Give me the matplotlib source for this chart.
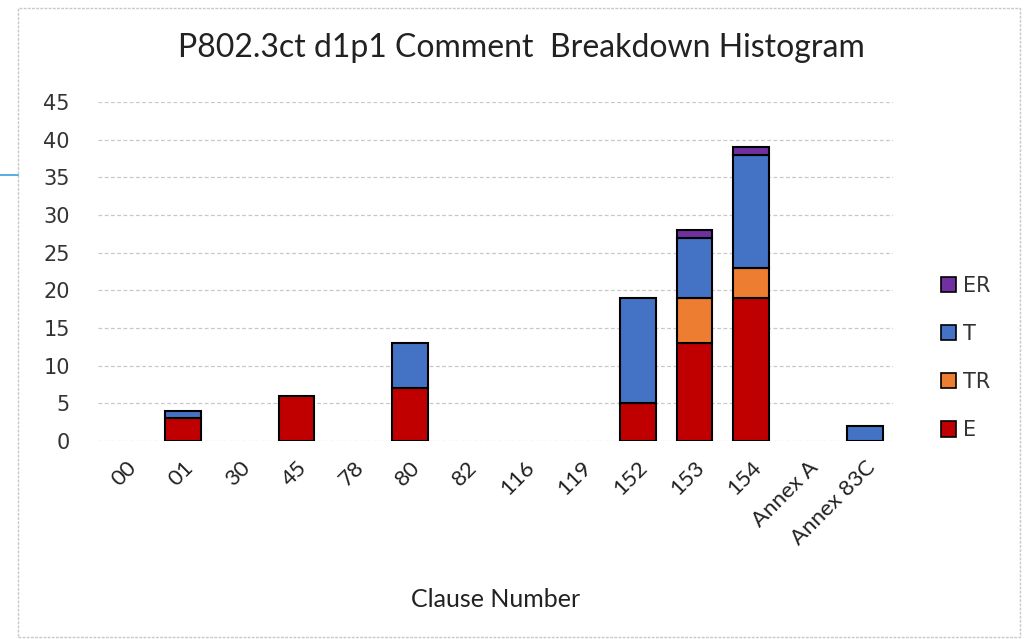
import matplotlib
matplotlib.use("Agg")
import matplotlib.pyplot as plt
import numpy as np
from matplotlib.patches import Rectangle, Patch
from matplotlib.lines import Line2D

categories = ["00", "01", "30", "45", "78", "80", "82", "116", "119", "152", "153", "154", "Annex A", "Annex 83C"]
E  = [0, 3, 0, 6, 0, 7, 0, 0, 0, 5, 13, 19, 0, 0]
TR = [0, 0, 0, 0, 0, 0, 0, 0, 0, 0, 6, 4, 0, 0]
T  = [0, 1, 0, 0, 0, 6, 0, 0, 0, 14, 8, 15, 0, 2]
ER = [0, 0, 0, 0, 0, 0, 0, 0, 0, 0, 1, 1, 0, 0]
series_names = ["E", "TR", "T", "ER"]
colors = {"E": "#C00000", "TR": "#ED7D31", "T": "#4472C4", "ER": "#7030A0"}

fig = plt.figure(figsize=(10.33, 6.39), dpi=100)
ax = fig.add_axes([97.5/1033, 1-441/639, (893.5-97.5)/1033, (441-102)/639])

x = np.arange(len(categories))
bottom = np.zeros(len(categories))
data = {"E": E, "TR": TR, "T": T, "ER": ER}
for name in series_names:
    vals = np.array(data[name], dtype=float)
    m = vals > 0
    ax.bar(x[m], vals[m], bottom=bottom[m], width=0.63, color=colors[name],
           edgecolor="black", linewidth=1.5, zorder=3)
    bottom += vals

ax.set_xlim(-0.5, len(categories) - 0.5)
ax.set_ylim(0, 45)
ax.set_yticks(np.arange(0, 46, 5))
ax.yaxis.grid(True, linestyle=(0, (3, 2)), color="#c8c8c8", linewidth=0.9, zorder=0)
for s in ax.spines.values():
    s.set_visible(False)
ax.tick_params(axis="both", length=0)
ax.tick_params(axis="y", labelsize=15, labelcolor="#333333", pad=20)
ax.set_xticks(x)
ax.set_xticklabels(categories, rotation=45, ha="right", rotation_mode="anchor",
                   fontsize=16, color="#222222", family="Lato")
ax.tick_params(axis="x", pad=12)
for lbl in ax.get_yticklabels():
    lbl.set_family("DejaVu Sans")

ax.set_xlabel("Clause Number", fontsize=18, family="Lato", color="#222222", labelpad=28)

fig.text(521/1033, 1-48/639, "P802.3ct d1p1 Comment  Breakdown Histogram", ha="center", va="center",
         fontsize=23, family="Lato", color="#222222")

handles = [Patch(facecolor=colors[n], edgecolor="black", linewidth=1.2) for n in ["ER", "T", "TR", "E"]]
leg = fig.legend(handles, ["ER", "T", "TR", "E"], loc="center left", bbox_to_anchor=(922/1033, 1-358/639),
                 frameon=False, fontsize=15, labelspacing=1.35, handlelength=0.75, handleheight=0.75,
                 handletextpad=0.3)
for t in leg.get_texts():
    t.set_color("#333333")

# chart area border
fig.add_artist(Rectangle((18/1033, 0.003), (1020-18)/1033, 1-8/639-0.003, transform=fig.transFigure,
                         fill=False, edgecolor="#c8c8c8", linewidth=1.0, linestyle=(0, (2, 1))))
fig.add_artist(Line2D([0, 18/1033], [1-175/639, 1-175/639], transform=fig.transFigure,
                      color="#3aa0e0", linewidth=1.2))

fig.savefig("out.png", dpi=100)
